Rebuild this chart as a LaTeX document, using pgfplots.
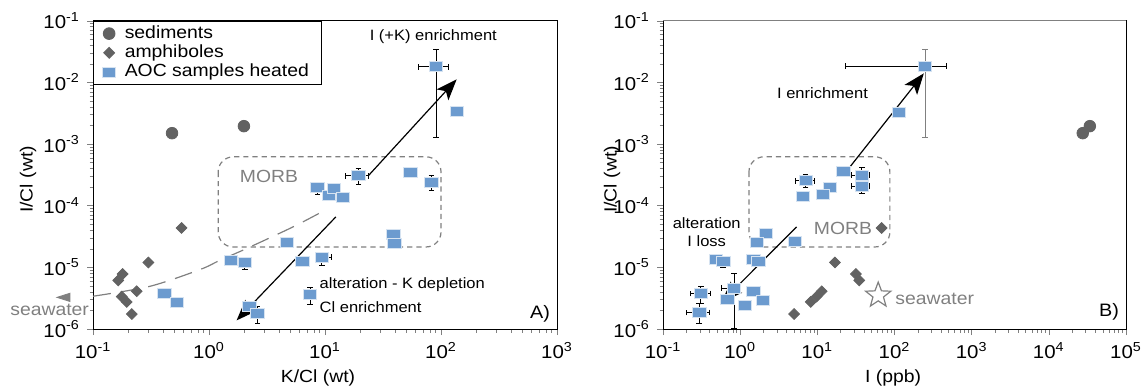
\documentclass[border=0pt]{standalone}
\usepackage{fontspec}
\setmainfont{Liberation Sans}[FakeStretch=1.1]
\usepackage{pgfplots}
\pgfplotsset{compat=1.18}
\usetikzlibrary{arrows.meta}
\tikzset{>={Stealth[length=10.5pt,width=8pt,inset=2.5pt]}}
\definecolor{aoc}{RGB}{108,155,207}
\definecolor{aocedge}{RGB}{214,227,241}
\definecolor{dgray}{RGB}{98,98,98}
\definecolor{mgray}{RGB}{128,128,128}
\pgfdeclareplotmark{ostar}{%
 \pgfpathmoveto{\pgfpointpolar{90}{\pgfplotmarksize}}%
 \pgfpathlineto{\pgfpointpolar{126}{0.42\pgfplotmarksize}}%
 \pgfpathlineto{\pgfpointpolar{162}{\pgfplotmarksize}}%
 \pgfpathlineto{\pgfpointpolar{198}{0.42\pgfplotmarksize}}%
 \pgfpathlineto{\pgfpointpolar{234}{\pgfplotmarksize}}%
 \pgfpathlineto{\pgfpointpolar{270}{0.42\pgfplotmarksize}}%
 \pgfpathlineto{\pgfpointpolar{306}{\pgfplotmarksize}}%
 \pgfpathlineto{\pgfpointpolar{342}{0.42\pgfplotmarksize}}%
 \pgfpathlineto{\pgfpointpolar{18}{\pgfplotmarksize}}%
 \pgfpathlineto{\pgfpointpolar{54}{0.42\pgfplotmarksize}}%
 \pgfpathclose\pgfusepathqstroke}
\pgfplotsset{
 sedst/.style={only marks, mark=*, mark size=2.9pt, mark options={fill=dgray, draw=dgray}},
 amphst/.style={only marks, mark=square*, mark size=1.9pt, mark options={rotate=45, fill=dgray, draw=dgray}},
 aocst/.style={only marks, mark=square*, mark size=2.5pt, mark options={xscale=1.33, fill=aoc, draw=aocedge, line width=0.4pt}},
 errst/.style={only marks, mark=none, forget plot,
   error bars/x dir=both, error bars/x explicit, error bars/y dir=both, error bars/y explicit,
   error bars/error bar style={#1, line width=0.45pt},
   error bars/error mark options={rotate=90, mark size=1.4pt, #1, line width=0.45pt}},
 arrst/.style={black, line width=0.6pt, ->, forget plot},
}
\begin{document}
\begin{tikzpicture}
\useasboundingbox (0,0) rectangle (571.5pt,195.5pt);
% ---------------- Panel A ----------------
\begin{axis}[xmode=log, ymode=log, scale only axis, height=154.15pt,
  tick align=outside, tick pos=left,
  major tick length=3pt, minor tick length=1.75pt,
  axis line style={line width=0.5pt},
  ymin=1e-6, ymax=0.1,
  ytick={1e-6,1e-5,1e-4,1e-3,1e-2,1e-1},
  yticklabels={10\textsuperscript{-6},10\textsuperscript{-5},10\textsuperscript{-4},10\textsuperscript{-3},10\textsuperscript{-2},10\textsuperscript{-1}},
  minor ytick={2e-6,3e-6,4e-6,5e-6,6e-6,7e-6,8e-6,9e-6,2e-5,3e-5,4e-5,5e-5,6e-5,7e-5,8e-5,9e-5,2e-4,3e-4,4e-4,5e-4,6e-4,7e-4,8e-4,9e-4,2e-3,3e-3,4e-3,5e-3,6e-3,7e-3,8e-3,9e-3,2e-2,3e-2,4e-2,5e-2,6e-2,7e-2,8e-2,9e-2},
  ticklabel style={font=\fontsize{9.3}{10}\selectfont},
  xlabel style={font=\fontsize{8.8}{10}\selectfont, at={(axis description cs:0.485,-0.159)}, anchor=center},
  ylabel style={font=\fontsize{8.8}{10}\selectfont, at={(axis description cs:-0.14,0.485)}, anchor=center},
  clip=false,
  at={(46.5pt,31pt)}, anchor=south west, width=232pt,
  xmin=0.1, xmax=1000,
  xtick={0.1,1,10,100,1000},
  xticklabels={10\textsuperscript{-1},10\textsuperscript{0},10\textsuperscript{1},10\textsuperscript{2},10\textsuperscript{3}},
  minor xtick={0.2,0.3,0.4,0.5,0.6,0.7,0.8,0.9,2,3,4,5,6,7,8,9,20,30,40,50,60,70,80,90,200,300,400,500,600,700,800,900},
  xlabel={K/Cl (wt)}, ylabel={I/Cl (wt)},
  legend style={at={(axis description cs:0,1)}, anchor=north west, draw=black, line width=0.5pt, fill=white,
    font=\fontsize{8.8}{9.8}\selectfont, inner xsep=4.5pt, inner ysep=1.5pt, row sep=0.2pt, column sep=2.5pt,
    nodes={inner ysep=0.5pt, text height=6.5pt, text depth=1.9pt}},
  legend cell align=left,
]
\addplot[sedst] coordinates {(0.48,1.50e-3) (2.0,1.95e-3)};
\addlegendentry{sediments}
\addplot[amphst] coordinates {(0.58,4.35e-5) (0.30,1.20e-5) (0.18,7.8e-6) (0.165,6.15e-6) (0.238,4.1e-6) (0.177,3.35e-6) (0.195,2.75e-6) (0.216,1.75e-6)};
\addlegendentry{amphiboles}
\addplot[mgray, line width=0.6pt, dash pattern=on 9pt off 5pt, smooth, forget plot] coordinates {(0.1,3.40e-6) (0.31,4.93e-6) (0.836,9.2e-6) (1.24,1.30e-5) (2.11,2.02e-5) (5.30,4.53e-5) (10,8.45e-5)};
\draw[mgray, line width=0.6pt, dash pattern=on 2.6pt off 2pt, rounded corners=7.5pt] (axis cs:1.2,6.2e-4) rectangle (axis cs:100,2.14e-5);
\addplot[errst=black] coordinates {
 (90.6,0.0179) += (26.4,0.0165) -= (26.9,0.01662)
 (19.4,3.05e-4) += (4.5,0.97e-4) -= (4.3,0.87e-4)
 (82.5,2.43e-4) += (0,0.70e-4) -= (0,0.64e-4)
 (8.59,2.0e-4) += (0,0.3e-4) -= (0,0.48e-4)
 (2.04,1.20e-5) += (0,0.2e-5) -= (0,0.28e-5)
 (9.37,1.47e-5) += (2.0,0.2e-5) -= (1.0,0.38e-5)
 (7.43,3.62e-6) += (0,1.08e-6) -= (0,1.10e-6)
 (2.61,1.78e-6) += (0,0.58e-6) -= (0,0.56e-6)
};
\addplot[aocst] coordinates {(90.6,0.0179) (138,3.33e-3) (19.4,3.05e-4) (54.4,3.50e-4) (82.5,2.43e-4) (8.59,2.0e-4) (10.8,1.48e-4) (12.0,1.90e-4) (14.2,1.36e-4) (38.8,3.48e-5) (39.6,2.43e-5) (4.67,2.55e-5) (1.55,1.30e-5) (2.04,1.20e-5) (6.37,1.24e-5) (9.37,1.47e-5) (7.43,3.62e-6) (2.23,2.36e-6) (2.61,1.78e-6) (0.412,3.84e-6) (0.527,2.74e-6)};
\addlegendentry{AOC samples heated}
\addplot[arrst] coordinates {(23.6,3.05e-4) (136.5,0.0112)};
\addplot[arrst] coordinates {(12.4,6.58e-5) (1.73,1.38e-6)};
\addplot[only marks, mark=triangle*, mark size=4.3pt, mark options={rotate=90, xscale=0.55, fill=mgray, draw=mgray}, forget plot] coordinates {(0.058,3.26e-6)};
\end{axis}
% ---------------- Panel B ----------------
\begin{axis}[xmode=log, ymode=log, scale only axis, height=154.15pt,
  tick align=outside, tick pos=left,
  major tick length=3pt, minor tick length=1.75pt,
  axis line style={line width=0.5pt},
  ymin=1e-6, ymax=0.1,
  ytick={1e-6,1e-5,1e-4,1e-3,1e-2,1e-1},
  yticklabels={10\textsuperscript{-6},10\textsuperscript{-5},10\textsuperscript{-4},10\textsuperscript{-3},10\textsuperscript{-2},10\textsuperscript{-1}},
  minor ytick={2e-6,3e-6,4e-6,5e-6,6e-6,7e-6,8e-6,9e-6,2e-5,3e-5,4e-5,5e-5,6e-5,7e-5,8e-5,9e-5,2e-4,3e-4,4e-4,5e-4,6e-4,7e-4,8e-4,9e-4,2e-3,3e-3,4e-3,5e-3,6e-3,7e-3,8e-3,9e-3,2e-2,3e-2,4e-2,5e-2,6e-2,7e-2,8e-2,9e-2},
  ticklabel style={font=\fontsize{9.3}{10}\selectfont},
  xlabel style={font=\fontsize{8.8}{10}\selectfont, at={(axis description cs:0.497,-0.159)}, anchor=center},
  ylabel style={font=\fontsize{8.8}{10}\selectfont, at={(axis description cs:-0.110,0.485)}, anchor=center},
  clip=false,
  at={(331.5pt,31pt)}, anchor=south west, width=231.5pt,
  xmin=0.1, xmax=1e5,
  xtick={0.1,1,10,100,1000,10000,100000},
  xticklabels={10\textsuperscript{-1},10\textsuperscript{0},10\textsuperscript{1},10\textsuperscript{2},10\textsuperscript{3},10\textsuperscript{4},10\textsuperscript{5}},
  minor xtick={0.2,0.3,0.4,0.5,0.6,0.7,0.8,0.9,2,3,4,5,6,7,8,9,20,30,40,50,60,70,80,90,200,300,400,500,600,700,800,900,2000,3000,4000,5000,6000,7000,8000,9000,20000,30000,40000,50000,60000,70000,80000,90000},
  xlabel={I (ppb)}, ylabel={I/Cl (wt)},
]
\draw[mgray, line width=0.6pt] (rel axis cs:0,1) -- (rel axis cs:1,1);
\addplot[sedst, forget plot] coordinates {(27500,1.50e-3) (34000,1.95e-3)};
\addplot[amphst, forget plot] coordinates {(68,4.35e-5) (16.9,1.20e-5) (31.6,7.8e-6) (34.9,6.15e-6) (11.4,4.1e-6) (9.8,3.35e-6) (8.2,2.75e-6) (5.0,1.75e-6)};
\draw[mgray, line width=0.6pt, dash pattern=on 2.6pt off 2pt, rounded corners=7.5pt] (axis cs:1.30,6.2e-4) rectangle (axis cs:87.1,2.14e-5);
\addplot[errst=mgray] coordinates {(248,0.0184) += (0,0.0163) -= (0,0.01712)};
\addplot[errst=black] coordinates {
 (248,0.0184) += (225,0) -= (225.2,0)
 (37.8,3.13e-4) += (10,1.04e-4) -= (10,0.5e-4)
 (37.8,2.07e-4) += (10,0.3e-4) -= (10,0.49e-4)
 (7.05,2.53e-4) += (1.99,0.72e-4) -= (1.81,0.58e-4)
 (0.310,3.76e-6) += (0.096,1.05e-6) -= (0.086,1.18e-6)
 (0.295,1.85e-6) += (0.103,0.73e-6) -= (0.096,0.60e-6)
 (0.832,4.63e-6) += (0.1,3.30e-6) -= (0.255,3.6e-6)
 (0.604,1.26e-5) += (0,0.1e-5) -= (0,0.27e-5)
};
\addplot[aocst, forget plot] coordinates {(248,0.0184) (114,3.21e-3) (21.7,3.63e-4) (37.8,3.13e-4) (37.8,2.07e-4) (7.05,2.53e-4) (14.6,1.97e-4) (11.9,1.54e-4) (6.45,1.43e-4) (2.14,3.54e-5) (1.64,2.55e-5) (5.08,2.62e-5) (0.482,1.37e-5) (0.604,1.26e-5) (1.48,1.37e-5) (1.72,1.27e-5) (0.310,3.76e-6) (0.295,1.85e-6) (0.832,4.63e-6) (0.681,3.0e-6) (1.48,4.09e-6) (1.15,2.43e-6) (1.99,2.92e-6)};
\addplot[arrst] coordinates {(22.3,3.25e-4) (240,0.014)};
\addplot[arrst] coordinates {(5.39,4.53e-5) (0.575,2.74e-6)};
\addplot[only marks, mark=ostar, mark size=6.6pt, mark options={draw=mgray, line width=0.6pt}, forget plot] coordinates {(61.5,3.52e-6)};
\end{axis}
% ---------------- annotations (pixel coordinates) ----------------
\begin{scope}[shift={(0pt,195.5pt)}, x=0.5pt, y=-0.5pt, every node/.style={inner sep=0pt}]
\tikzset{ann/.style={font=\fontsize{7.5}{8}\selectfont}, big/.style={font=\fontsize{8.8}{9}\selectfont}}
\node[ann] at (433.3,36.7) {I (+K) enrichment};
\node[ann, anchor=west] at (319.3,285) {alteration - K depletion};
\node[ann, anchor=west] at (319.3,307) {Cl enrichment};
\node[big, mgray] at (269,176) {MORB};
\node[big, mgray, anchor=west] at (10,310) {seawater};
\node[font=\fontsize{9}{9}\selectfont] at (540,314) {A)};
\node[ann] at (822.5,93.3) {I enrichment};
\node[ann] at (706.7,223.3) {alteration};
\node[ann] at (706.7,241.5) {I loss};
\node[big, mgray] at (843,228) {MORB};
\node[big, mgray, anchor=west] at (895,299.3) {seawater};
\node[font=\fontsize{9}{9}\selectfont] at (1109,312) {B)};
\end{scope}
\end{tikzpicture}
\end{document}
